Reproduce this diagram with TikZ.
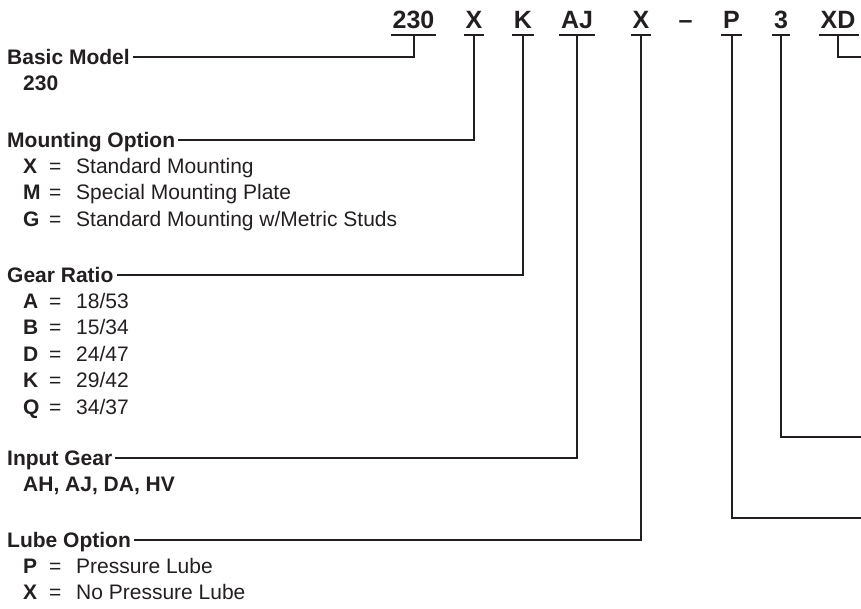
\documentclass[tikz,border=0pt]{standalone}
\usepackage{fontspec}
\setmainfont{Liberation Sans}
\usepackage{xcolor}
\usetikzlibrary{positioning}
\definecolor{ink}{HTML}{231F20}
\newcommand{\optrow}[2]{\makebox[26pt][l]{\bfseries #1}\makebox[27pt][l]{=}#2}

\begin{document}
\begin{tikzpicture}[
  x=1pt, y=-1pt,
  node distance=11pt,
  code/.style={font=\fontsize{25}{25}\selectfont\bfseries, text=ink, anchor=base, inner xsep=1.5pt, inner ysep=7pt},
  lbl/.style={font=\fontsize{21}{21}\selectfont\bfseries, text=ink, anchor=base west, inner xsep=3pt, inner ysep=0pt, text height=15pt, text depth=0pt},
  opt/.style={font=\fontsize{21}{21}\selectfont, text=ink, anchor=north west, inner sep=0pt, text height=15pt, text depth=0pt},
  ln/.style={draw=ink, line width=2pt}
]
  \useasboundingbox (0,0) rectangle (861,608);

  % model code
  \node[code] (cmodel) at (413.5,28) {230};
  \node[code] (cmount) at (474,28) {X};
  \node[code] (cratio) at (523,28) {K};
  \node[code] (cinput) at (577,28) {AJ};
  \node[code] (clube) at (641,28) {X};
  \node[code, inner ysep=0pt] (dash) at (685.5,28) {\textendash};
  \node[code] (cp) at (731.5,28) {P};
  \node[code] (cthree) at (781,28) {3};
  \node[code] (cxd) at (838,28) {XD};

  \draw[ln] (cmodel.south west) -- (cmodel.south east);
  \draw[ln] (cmount.south west) -- (cmount.south east);
  \draw[ln] (cratio.south west) -- (cratio.south east);
  \draw[ln] (cinput.south west) -- (cinput.south east);
  \draw[ln] (clube.south west) -- (clube.south east);
  \draw[ln] (cp.south west) -- (cp.south east);
  \draw[ln] (cthree.south west) -- (cthree.south east);
  \draw[ln] (cxd.south west) -- ++(40,0);

  % option lists
  \node[lbl] (model) at (4,64) {Basic Model};
  \node[opt, below=of model.south west, anchor=north west, xshift=19pt] (model1) {\bfseries 230};

  \node[lbl] (mount) at (4,147) {Mounting Option};
  \node[opt, below=of mount.south west, anchor=north west, xshift=19pt] (mount1) {\optrow{X}{Standard Mounting}};
  \node[opt, below=of mount1.south west, anchor=north west] (mount2) {\optrow{M}{Special Mounting Plate}};
  \node[opt, below=of mount2.south west, anchor=north west] (mount3) {\optrow{G}{Standard Mounting w/Metric Studs}};

  \node[lbl] (ratio) at (4,282) {Gear Ratio};
  \node[opt, below=of ratio.south west, anchor=north west, xshift=19pt] (ratio1) {\optrow{A}{18/53}};
  \node[opt, below=of ratio1.south west, anchor=north west] (ratio2) {\optrow{B}{15/34}};
  \node[opt, below=of ratio2.south west, anchor=north west] (ratio3) {\optrow{D}{24/47}};
  \node[opt, below=of ratio3.south west, anchor=north west] (ratio4) {\optrow{K}{29/42}};
  \node[opt, below=of ratio4.south west, anchor=north west] (ratio5) {\optrow{Q}{34/37}};

  \node[lbl] (input) at (4,465) {Input Gear};
  \node[opt, below=of input.south west, anchor=north west, xshift=19pt] (input1) {\bfseries AH, AJ, DA, HV};

  \node[lbl] (lube) at (4,547) {Lube Option};
  \node[opt, below=of lube.south west, anchor=north west, xshift=19pt] (lube1) {\optrow{P}{Pressure Lube}};
  \node[opt, below=of lube1.south west, anchor=north west] (lube2) {\optrow{X}{No Pressure Lube}};

  % leaders
  \coordinate (edgexd) at (870,57);
  \coordinate (edgethree) at (870,437);
  \coordinate (edgep) at (870,518);

  \draw[ln] (cmodel.south) |- (model.east);
  \draw[ln] (cmount.south) |- (mount.east);
  \draw[ln] (cratio.south) |- (ratio.east);
  \draw[ln] (cinput.south) |- (input.east);
  \draw[ln] (clube.south) |- (lube.east);
  \draw[ln] (cp.south) |- (edgep);
  \draw[ln] (cthree.south) |- (edgethree);
  \draw[ln] (cxd.south) |- (edgexd);
\end{tikzpicture}
\end{document}
